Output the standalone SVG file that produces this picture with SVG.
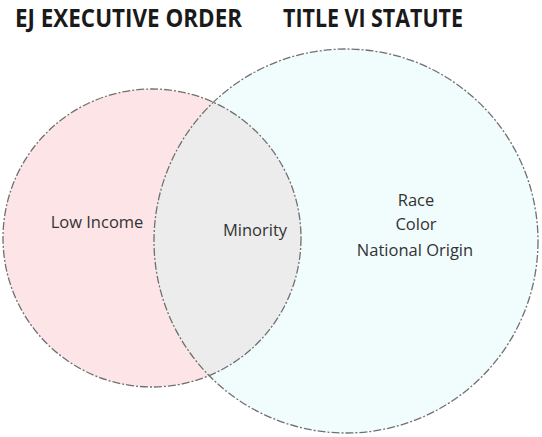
<svg xmlns="http://www.w3.org/2000/svg" width="542" height="437" viewBox="0 0 542 437">
<style>
.title{font-family:"Open Sans","Liberation Sans",sans-serif;font-weight:bold;font-size:25px;fill:#1a1a1a}
.lbl{font-family:"Open Sans","Liberation Sans",sans-serif;font-size:16.5px;fill:#333}
.edge{fill:none;stroke:#707070;stroke-width:1.3;stroke-dasharray:8 2 2 2}
</style>
<defs>
<clipPath id="clipL"><circle cx="152" cy="238" r="149"/></clipPath>
</defs>
<rect width="542" height="437" fill="#ffffff"/>
<g id="titles">
<text class="title" x="15" y="27" textLength="227" lengthAdjust="spacingAndGlyphs">EJ EXECUTIVE ORDER</text>
<text class="title" x="283" y="27" textLength="180" lengthAdjust="spacingAndGlyphs">TITLE VI STATUTE</text>
</g>
<g id="ej-circle">
<circle cx="152" cy="238" r="149" fill="#fde4e7"/>
</g>
<g id="title-vi-circle">
<circle cx="346" cy="241" r="192" fill="#f1fcfd"/>
</g>
<g id="overlap">
<circle cx="346" cy="241" r="192" fill="#ececec" clip-path="url(#clipL)"/>
</g>
<g id="outlines">
<circle class="edge" cx="152" cy="238" r="149"/>
<circle class="edge" cx="346" cy="241" r="192"/>
</g>
<g id="labels">
<text class="lbl" x="97" y="228" text-anchor="middle">Low Income</text>
<text class="lbl" x="255" y="236" text-anchor="middle">Minority</text>
<text class="lbl" x="416" y="206" text-anchor="middle">Race</text>
<text class="lbl" x="416" y="230" text-anchor="middle">Color</text>
<text class="lbl" x="415" y="256" text-anchor="middle">National Origin</text>
</g>
</svg>
